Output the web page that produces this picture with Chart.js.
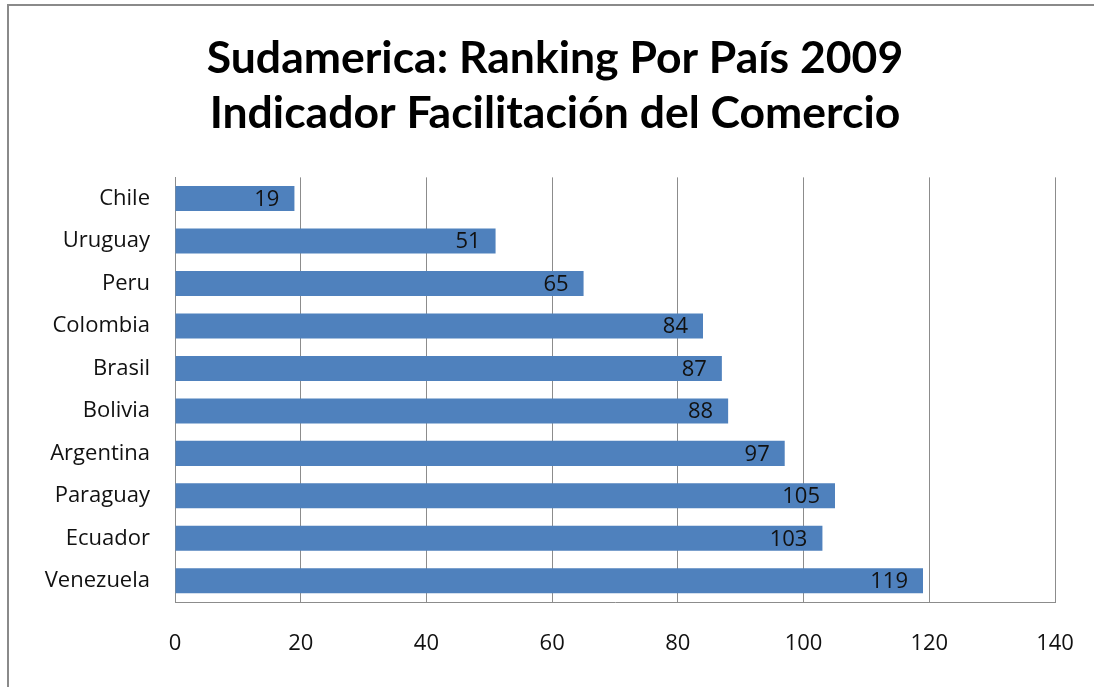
<!DOCTYPE html>
<html>
<head>
<meta charset="utf-8">
<script src="https://cdn.jsdelivr.net/npm/chart.js@4/dist/chart.umd.min.js"></script>
<style>
  html, body { margin: 0; padding: 0; background: #fff; }
  #wrap { position: relative; width: 1094px; height: 687px; }
</style>
</head>
<body>
<div id="wrap"><canvas id="chart" width="1094" height="687"></canvas></div>
<script>
  // data
  const countries = ['Chile', 'Uruguay', 'Peru', 'Colombia', 'Brasil', 'Bolivia', 'Argentina', 'Paraguay', 'Ecuador', 'Venezuela'];
  const ranking = [19, 51, 65, 84, 87, 88, 97, 105, 103, 119];
  const xTicks = [0, 20, 40, 60, 80, 100, 120, 140];
  const titleLines = ['Sudamerica: Ranking Por País 2009', 'Indicador Facilitación del Comercio'];

  const TITLE_FONT = 'Lato, "Liberation Sans", sans-serif';
  const FONT = '"Open Sans", "Liberation Sans", sans-serif';

  // grey frame on the left and top, like the Excel chart border
  const framePlugin = {
    id: 'frame',
    beforeDraw(chart) {
      const c = chart.ctx;
      c.save();
      c.fillStyle = '#fff';
      c.fillRect(0, 0, chart.width, chart.height);
      c.strokeStyle = '#8a8a8a';
      c.lineWidth = 2;
      c.beginPath();
      c.moveTo(8, chart.height);
      c.lineTo(8, 5);
      c.lineTo(chart.width, 5);
      c.stroke();
      c.restore();
    }
  };

  // values written inside the end of each bar
  const barLabels = {
    id: 'barLabels',
    afterDatasetsDraw(chart) {
      const c = chart.ctx;
      const meta = chart.getDatasetMeta(0);
      c.save();
      c.font = '22px ' + FONT;
      c.fillStyle = '#111';
      c.textAlign = 'right';
      c.textBaseline = 'middle';
      meta.data.forEach((bar, i) => {
        c.fillText(String(ranking[i]), bar.x - 15, bar.y + 1);
      });
      c.restore();
    }
  };

  new Chart(document.getElementById('chart'), {
    type: 'bar',
    data: {
      labels: countries,
      datasets: [{
        data: ranking,
        backgroundColor: '#4f81bd',
        borderWidth: 0,
        barPercentage: 0.59,
        categoryPercentage: 1
      }]
    },
    plugins: [framePlugin, barLabels],
    options: {
      indexAxis: 'y',
      responsive: false,
      animation: false,
      layout: { padding: { left: 26, right: 10, top: 0, bottom: 0 } },
      plugins: {
        legend: { display: false },
        tooltip: { enabled: false },
        title: {
          display: true,
          text: titleLines,
          color: '#000',
          font: { family: TITLE_FONT, size: 44.5, weight: 'bold', lineHeight: 1.24 },
          padding: { top: 31, bottom: 36 }
        }
      },
      scales: {
        x: {
          min: 0,
          max: 140,
          afterBuildTicks(scale) { scale.ticks = xTicks.map(v => ({ value: v })); },
          afterFit(scale) {
            scale.height = 85;
            scale.paddingLeft = 0;
            scale.paddingRight = 39;
          },
          grid: { color: '#8c8c8c', lineWidth: 1, drawTicks: false },
          border: { color: '#8c8c8c', width: 1 },
          ticks: { color: '#111', padding: 29, font: { family: FONT, size: 22 } }
        },
        y: {
          afterFit(scale) { scale.width = 149; },
          grid: { display: false, drawTicks: false },
          border: { color: '#8c8c8c', width: 1 },
          ticks: { color: '#111', padding: 25, font: { family: FONT, size: 22 } }
        }
      }
    }
  });
</script>
</body>
</html>
